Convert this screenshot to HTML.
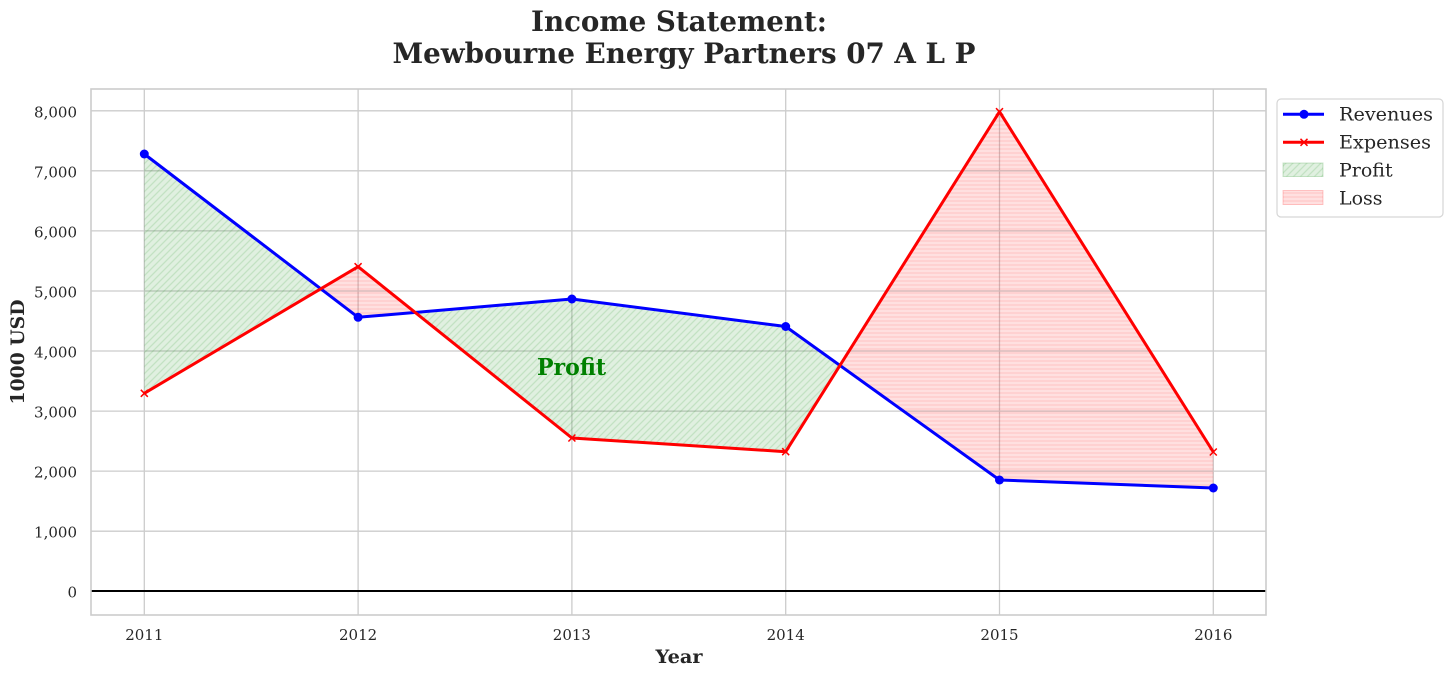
<!DOCTYPE html>
<html><head><meta charset="utf-8"><style>
html,body{margin:0;padding:0;background:#fff;}
svg{display:block;}
text{font-family:"DejaVu Serif","Liberation Serif",serif;fill:#262626;}
</style></head><body>
<svg width="1452" height="676" viewBox="0 0 1452 676" xmlns="http://www.w3.org/2000/svg">
<defs>
<pattern id="hg" patternUnits="userSpaceOnUse" width="7" height="7">
<rect width="7" height="7" fill="rgba(0,128,0,0.12)"/>
<path d="M-1,8 L8,-1 M-1,1 L1,-1 M6,8 L8,6" stroke="rgba(0,128,0,0.13)" stroke-width="1.3"/>
</pattern>
<pattern id="hr" patternUnits="userSpaceOnUse" width="8" height="4">
<rect width="8" height="4" fill="rgba(255,0,0,0.12)"/>
<path d="M0,1 L8,1" stroke="rgba(255,0,0,0.1)" stroke-width="1.3"/>
</pattern>
</defs>
<rect x="0" y="0" width="1452" height="676" fill="#fff"/>
<!-- title -->
<text x="679" y="31" text-anchor="middle" font-size="28" font-weight="bold" textLength="296" lengthAdjust="spacingAndGlyphs">Income Statement:</text>
<text x="684" y="63" text-anchor="middle" font-size="28" font-weight="bold" textLength="583" lengthAdjust="spacingAndGlyphs">Mewbourne Energy Partners 07 A L P</text>
<!-- grid -->
<g stroke="#cccccc" stroke-width="1.3">
<line x1="91" x2="1266" y1="531.2" y2="531.2"/>
<line x1="91" x2="1266" y1="471.1" y2="471.1"/>
<line x1="91" x2="1266" y1="411.1" y2="411.1"/>
<line x1="91" x2="1266" y1="351.0" y2="351.0"/>
<line x1="91" x2="1266" y1="291.0" y2="291.0"/>
<line x1="91" x2="1266" y1="230.9" y2="230.9"/>
<line x1="91" x2="1266" y1="170.8" y2="170.8"/>
<line x1="91" x2="1266" y1="110.8" y2="110.8"/>
<line x1="144.3" x2="144.3" y1="89" y2="615"/>
<line x1="358.1" x2="358.1" y1="89" y2="615"/>
<line x1="571.9" x2="571.9" y1="89" y2="615"/>
<line x1="785.7" x2="785.7" y1="89" y2="615"/>
<line x1="999.5" x2="999.5" y1="89" y2="615"/>
<line x1="1213.3" x2="1213.3" y1="89" y2="615"/>
</g>
<!-- fills -->
<polygon points="144.3,154 320.8,288.8 144.3,393.3" fill="url(#hg)"/>
<polygon points="415.2,312.4 571.9,299 785.7,326.5 839.9,365.4 785.7,451.7 571.9,438" fill="url(#hg)"/>
<polygon points="320.8,288.8 358.1,266.7 415.2,312.4 358.1,317.3" fill="url(#hr)"/>
<polygon points="839.9,365.4 999.5,111.7 1213.3,452 1213.3,488 999.5,480" fill="url(#hr)"/>
<!-- zero line -->
<line x1="91" x2="1266" y1="591" y2="591" stroke="#000" stroke-width="2"/>
<!-- spines -->
<rect x="91" y="89" width="1175" height="526" fill="none" stroke="#cccccc" stroke-width="1.6"/>
<!-- series -->
<polyline points="144.3,154 358.1,317.3 571.9,299 785.7,326.5 999.5,480 1213.3,488" fill="none" stroke="#0000ff" stroke-width="3" stroke-linejoin="round"/>
<polyline points="144.3,393.3 358.1,266.7 571.9,438 785.7,451.7 999.5,111.7 1213.3,452" fill="none" stroke="#ff0000" stroke-width="3" stroke-linejoin="round"/>
<g fill="#0000ff">
<circle cx="144.3" cy="154" r="4.5"/><circle cx="358.1" cy="317.3" r="4.5"/><circle cx="571.9" cy="299" r="4.5"/>
<circle cx="785.7" cy="326.5" r="4.5"/><circle cx="999.5" cy="480" r="4.5"/><circle cx="1213.3" cy="488" r="4.5"/>
</g>
<g stroke="#ff0000" stroke-width="1.5">
<path d="M140.8,389.8 l7,7 m0,-7 l-7,7"/>
<path d="M354.6,263.2 l7,7 m0,-7 l-7,7"/>
<path d="M568.4,434.5 l7,7 m0,-7 l-7,7"/>
<path d="M782.2,448.2 l7,7 m0,-7 l-7,7"/>
<path d="M996,108.2 l7,7 m0,-7 l-7,7"/>
<path d="M1209.8,448.5 l7,7 m0,-7 l-7,7"/>
</g>
<!-- Profit annotation -->
<text x="571.5" y="375" text-anchor="middle" font-size="23" font-weight="bold" style="fill:#008000" textLength="69" lengthAdjust="spacingAndGlyphs">Profit</text>
<!-- y tick labels -->
<g font-size="15" text-anchor="end">
<text x="77" y="597.7">0</text>
<text x="77" y="537.7">1,000</text>
<text x="77" y="477.6">2,000</text>
<text x="77" y="417.6">3,000</text>
<text x="77" y="357.5">4,000</text>
<text x="77" y="297.5">5,000</text>
<text x="77" y="237.4">6,000</text>
<text x="77" y="177.3">7,000</text>
<text x="77" y="117.3">8,000</text>
</g>
<!-- x tick labels -->
<g font-size="15" text-anchor="middle">
<text x="144.3" y="640">2011</text>
<text x="358.1" y="640">2012</text>
<text x="571.9" y="640">2013</text>
<text x="785.7" y="640">2014</text>
<text x="999.5" y="640">2015</text>
<text x="1213.3" y="640">2016</text>
</g>
<!-- axis labels -->
<text x="679" y="663" text-anchor="middle" font-size="19" font-weight="bold" textLength="47" lengthAdjust="spacingAndGlyphs">Year</text>
<text transform="translate(24,352) rotate(-90)" x="0" y="0" text-anchor="middle" font-size="19" font-weight="bold" textLength="105" lengthAdjust="spacingAndGlyphs">1000 USD</text>
<!-- legend -->
<rect x="1277" y="99" width="166" height="118" rx="4" ry="4" fill="#fff" stroke="#d6d6d6" stroke-width="1.2"/>
<line x1="1283" x2="1324" y1="114.3" y2="114.3" stroke="#0000ff" stroke-width="3"/>
<circle cx="1304" cy="114.3" r="4.5" fill="#0000ff"/>
<line x1="1283" x2="1324" y1="142.3" y2="142.3" stroke="#ff0000" stroke-width="3"/>
<path d="M1300.5,138.8 l7,7 m0,-7 l-7,7" stroke="#ff0000" stroke-width="1.5"/>
<rect x="1283" y="163" width="40" height="13.5" fill="url(#hg)" stroke="rgba(0,128,0,0.2)" stroke-width="1"/>
<rect x="1283" y="190.5" width="40" height="14" fill="url(#hr)" stroke="rgba(255,0,0,0.2)" stroke-width="1"/>
<g font-size="19">
<text x="1339" y="120.7" textLength="94" lengthAdjust="spacingAndGlyphs">Revenues</text>
<text x="1339" y="148.7" textLength="92" lengthAdjust="spacingAndGlyphs">Expenses</text>
<text x="1339" y="176.5">Profit</text>
<text x="1339" y="204.3">Loss</text>
</g>
</svg>
</body></html>
